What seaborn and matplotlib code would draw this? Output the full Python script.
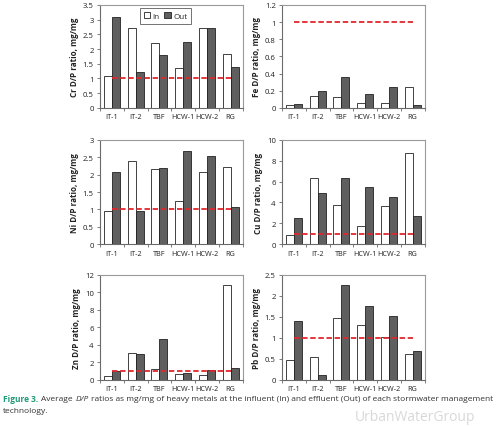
import matplotlib
matplotlib.use("Agg")
import matplotlib.pyplot as plt
import seaborn as sns
import pandas as pd
from matplotlib.ticker import FixedLocator, FuncFormatter
from matplotlib.patches import Patch

sns.set_theme(style="white")
plt.rcParams['font.family'] = ['Open Sans', 'DejaVu Sans']

techs = ["IT-1", "IT-2", "TBF", "HCW-1", "HCW-2", "RG"]
series = ["In", "Out"]

cr_in = [1.07, 2.70, 2.20, 1.35, 2.73, 1.82]
cr_out = [3.10, 1.23, 1.80, 2.25, 2.70, 1.40]
fe_in = [0.03, 0.135, 0.125, 0.055, 0.06, 0.245]
fe_out = [0.05, 0.195, 0.365, 0.165, 0.245, 0.035]
ni_in = [0.95, 2.40, 2.17, 1.25, 2.08, 2.23]
ni_out = [2.07, 0.95, 2.18, 2.68, 2.53, 1.08]
cu_in = [0.90, 6.30, 3.80, 1.75, 3.70, 8.70]
cu_out = [2.50, 4.95, 6.30, 5.50, 4.50, 2.70]
zn_in = [0.40, 3.05, 1.20, 0.70, 0.55, 10.85]
zn_out = [1.05, 2.95, 4.70, 0.75, 1.10, 1.35]
pb_in = [0.47, 0.55, 1.48, 1.30, 1.03, 0.62]
pb_out = [1.40, 0.12, 2.25, 1.77, 1.53, 0.68]

metals = ["Cr", "Fe", "Ni", "Cu", "Zn", "Pb"]
data_in = [cr_in, fe_in, ni_in, cu_in, zn_in, pb_in]
data_out = [cr_out, fe_out, ni_out, cu_out, zn_out, pb_out]
ymax = [3.5, 1.2, 3, 10, 12, 2.5]
ystep = [0.5, 0.2, 0.5, 2, 2, 0.5]
ref_value = 1.0

fig = plt.figure(figsize=(5.0, 4.27), dpi=100)

lefts = [0.200, 0.564]
bottoms = [0.745, 0.426, 0.108]
heights = [0.241, 0.244, 0.246]
width = 0.285

palette = {"In": "white", "Out": "#5f5f5f"}
frame_col = "#9a9a9a"
axis_col = "#6a6a6a"

def fmt(v, pos):
    s = ("%.1f" % v).rstrip("0").rstrip(".")
    return s

for i, m in enumerate(metals):
    r, c = divmod(i, 2)
    ax = fig.add_axes([lefts[c], bottoms[r], width, heights[r]])
    df = pd.DataFrame({
        "tech": techs * 2,
        "series": ["In"] * 6 + ["Out"] * 6,
        "val": data_in[i] + data_out[i],
    })
    sns.barplot(data=df, x="tech", y="val", hue="series", order=techs,
                hue_order=series, palette=palette, edgecolor="#222222",
                linewidth=0.6, width=0.68, gap=0, ax=ax, legend=False)
    n = len(techs)
    ax.plot(list(range(n)), [ref_value] * n, color="#e0262b",
            linestyle=(0, (3, 1.5)), linewidth=1.3, zorder=5)
    ax.set_xlim(-0.5, n - 0.5)
    ax.set_ylim(0, ymax[i])
    ticks = [k * ystep[i] for k in range(int(round(ymax[i] / ystep[i])) + 1)]
    ax.yaxis.set_major_locator(FixedLocator(ticks))
    ax.yaxis.set_major_formatter(FuncFormatter(fmt))
    ax.xaxis.set_minor_locator(FixedLocator([k - 0.5 for k in range(n + 1)]))
    ax.tick_params(axis="x", which="major", length=0, labelsize=5.2,
                   pad=4, colors="#222222")
    ax.tick_params(axis="x", which="minor", length=2.5, width=0.6,
                   color=axis_col, bottom=True)
    ax.tick_params(axis="y", which="major", length=2.5, width=0.6,
                   color=axis_col, left=True, labelsize=5.6, pad=2,
                   labelcolor="#222222")
    ax.set_xlabel("")
    ax.set_ylabel(f"{m} D/P ratio, mg/mg", fontsize=5.8, fontweight="bold",
                  color="#222222", labelpad=3)
    for side in ["top", "right"]:
        ax.spines[side].set_color(frame_col)
        ax.spines[side].set_linewidth(0.8)
    for side in ["left", "bottom"]:
        ax.spines[side].set_color(axis_col)
        ax.spines[side].set_linewidth(0.8)
    if i == 0:
        handles = [Patch(facecolor=palette[s], edgecolor="#222222",
                         linewidth=0.6, label=s) for s in series]
        leg = ax.legend(handles=handles, loc="center", ncol=2,
                        bbox_to_anchor=(0.46, 0.895), fontsize=5.8,
                        frameon=True, fancybox=False, handlelength=0.8,
                        handleheight=0.8, handletextpad=0.3,
                        columnspacing=0.6, borderpad=0.5)
        leg.get_frame().set_edgecolor("#333333")
        leg.get_frame().set_linewidth(0.6)

# watermark (kept clear of the caption)
fig.text(0.83, 0.022, "UrbanWaterGroup", fontsize=10, color="#c8c8c8",
         alpha=0.7, ha="center", va="center", family="Open Sans")

# caption
fs = 6.0
fig.canvas.draw()
renderer = fig.canvas.get_renderer()
t1 = fig.text(0.006, 0.064, "Figure 3.", fontsize=fs, fontweight="bold",
              color="#1f9a78", va="center", family="Open Sans")
bb = t1.get_window_extent(renderer=renderer)
x0 = bb.x1 / fig.bbox.width + 0.006
t2 = fig.text(x0, 0.064, "Average", fontsize=fs, color="#333333",
              va="center", family="Open Sans")
bb = t2.get_window_extent(renderer=renderer)
x0 = bb.x1 / fig.bbox.width + 0.005
t3 = fig.text(x0, 0.064, "D/P", fontsize=fs, color="#333333",
              va="center", style="italic", family="Open Sans")
bb = t3.get_window_extent(renderer=renderer)
x0 = bb.x1 / fig.bbox.width + 0.005
fig.text(x0, 0.064,
         "ratios as mg/mg of heavy metals at the influent (In) and effluent (Out) of each stormwater management",
         fontsize=fs, color="#333333", va="center", family="Open Sans")
fig.text(0.006, 0.036, "technology.", fontsize=fs, color="#333333",
         va="center", family="Open Sans")

fig.savefig("out.png", dpi=100)
